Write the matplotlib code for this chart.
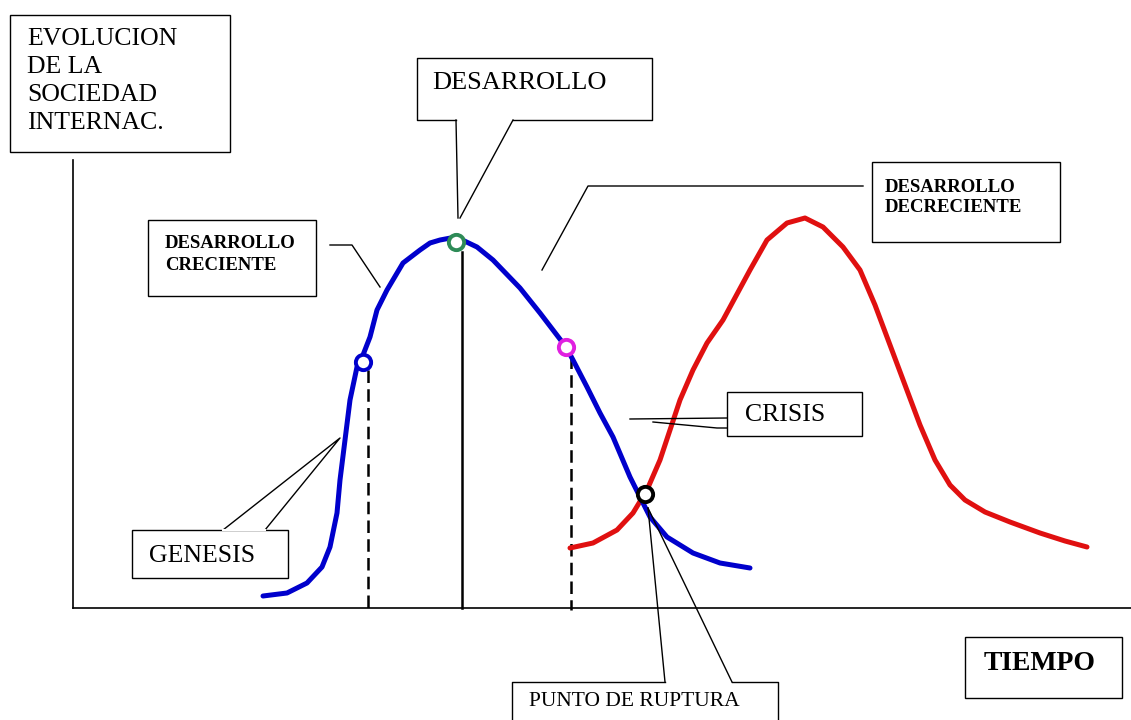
import matplotlib.pyplot as plt
from matplotlib.patches import Rectangle

# curvas (coordenadas en pixeles, y hacia abajo)
azul_x = [263, 287, 307, 322, 330, 337, 340, 345, 350, 357, 363, 370, 377, 387, 403,
          420, 430, 440, 456, 477, 493, 520, 540, 566, 573, 587, 600, 613, 630, 640,
          650, 667, 693, 720, 750]
azul_y = [596, 593, 583, 567, 547, 513, 480, 440, 400, 367, 355, 337, 310, 290, 263,
          250, 243, 240, 237, 247, 260, 288, 313, 347, 360, 387, 413, 437, 477, 497,
          517, 537, 553, 563, 568]

rojo_x = [570, 593, 617, 633, 647, 660, 670, 680, 693, 707, 723, 750, 767, 787, 805,
          823, 843, 860, 875, 890, 905, 920, 935, 950, 965, 985, 1010, 1040, 1065, 1087]
rojo_y = [548, 543, 530, 513, 490, 460, 430, 400, 370, 343, 320, 270, 240, 223, 218,
          227, 247, 270, 305, 345, 385, 425, 460, 485, 500, 512, 522, 533, 541, 547]

# puntos marcados
puntos_x = [363, 456, 566, 645]
puntos_y = [362, 242, 347, 494]
puntos_color = ['#0000cc', '#2e8b57', '#e020e0', 'black']

# lineas de referencia verticales
ref_x = [368, 462, 571]
ref_y0 = [370, 252, 356]

fig = plt.figure(figsize=(11.31, 7.2), dpi=100)
ax = fig.add_axes([0, 0, 1, 1])
ax.set_xlim(0, 1131)
ax.set_ylim(720, 0)
ax.axis('off')

fuente = 'Liberation Serif'

# ejes
ax.plot([73, 73], [160, 608], color='black', lw=1.2)
ax.plot([73, 1131], [608, 608], color='black', lw=1.2)

# referencias
ax.plot([ref_x[0]] * 2, [ref_y0[0], 610], color='black', lw=1.8, ls=(0, (5, 2.5)))
ax.plot([ref_x[1]] * 2, [ref_y0[1], 608], color='black', lw=1.8)
ax.plot([ref_x[2]] * 2, [ref_y0[2], 610], color='black', lw=1.8, ls=(0, (5, 2.5)))

# curvas
ax.plot(rojo_x, rojo_y, color='#e01010', lw=3.6, solid_capstyle='round', solid_joinstyle='round')
ax.plot(azul_x, azul_y, color='#0000cc', lw=3.6, solid_capstyle='round', solid_joinstyle='round')

for x, y, c in zip(puntos_x, puntos_y, puntos_color):
    ax.plot(x, y, 'o', ms=11, mfc='white', mec=c, mew=2.8)

lw = 1.0
k = 'black'

# caja EVOLUCION
ax.add_patch(Rectangle((10, 15), 220, 137, fill=False, ec=k, lw=lw))
for i, t in enumerate(['EVOLUCION', 'DE LA', 'SOCIEDAD', 'INTERNAC.']):
    ax.text(27, 39 + i * 28, t, family=fuente, fontsize=18.5, va='center', ha='left')

# caja DESARROLLO (con cola)
ax.plot([456, 417, 417, 652, 652, 513], [120, 120, 58, 58, 120, 120], color=k, lw=lw)
ax.plot([456, 458], [120, 218], color=k, lw=lw)
ax.plot([513, 460], [120, 218], color=k, lw=lw)
ax.text(432, 83, 'DESARROLLO', family=fuente, fontsize=19, va='center', ha='left')

# caja DESARROLLO CRECIENTE
ax.add_patch(Rectangle((148, 220), 168, 76, fill=False, ec=k, lw=lw))
ax.text(165, 243, 'DESARROLLO', family=fuente, fontsize=13.5, weight='bold', va='center')
ax.text(165, 265, 'CRECIENTE', family=fuente, fontsize=13.5, weight='bold', va='center')
ax.plot([330, 352, 380], [245, 245, 287], color=k, lw=lw)

# caja DESARROLLO DECRECIENTE
ax.add_patch(Rectangle((872, 162), 188, 80, fill=False, ec=k, lw=lw))
ax.text(885, 187, 'DESARROLLO', family=fuente, fontsize=13.5, weight='bold', va='center')
ax.text(885, 208, 'DECRECIENTE', family=fuente, fontsize=13.5, weight='bold', va='center')
ax.plot([863, 588, 542], [186, 186, 270], color=k, lw=lw)

# caja CRISIS (con cola)
ax.add_patch(Rectangle((727, 392), 135, 44, fill=False, ec=k, lw=lw))
ax.plot([630, 727], [419, 418], color=k, lw=lw)
ax.plot([653, 717, 727], [422, 428, 428], color=k, lw=lw)
ax.text(745, 415, 'CRISIS', family=fuente, fontsize=18.5, va='center')

# caja GENESIS (con cola)
ax.add_patch(Rectangle((132, 530), 156, 48, fill=False, ec=k, lw=lw))
ax.plot([223, 340, 265], [530, 438, 530], color=k, lw=lw)
ax.plot([223, 265], [530, 530], color='white', lw=lw + 0.5)
ax.text(149, 556, 'GENESIS', family=fuente, fontsize=18.5, va='center')

# caja PUNTO DE RUPTURA (con cola)
ax.plot([665, 512, 512], [682, 682, 722], color=k, lw=lw)
ax.plot([732, 778, 778], [682, 682, 722], color=k, lw=lw)
ax.plot([665, 648], [682, 508], color=k, lw=lw)
ax.plot([732, 648], [682, 508], color=k, lw=lw)
ax.text(529, 702, 'PUNTO DE RUPTURA', family=fuente, fontsize=15.5, va='center')

# caja TIEMPO
ax.add_patch(Rectangle((965, 637), 157, 61, fill=False, ec=k, lw=lw))
ax.text(984, 664, 'TIEMPO', family=fuente, fontsize=20, weight='bold', va='center')

fig.savefig('out.png', dpi=100, facecolor='white')
